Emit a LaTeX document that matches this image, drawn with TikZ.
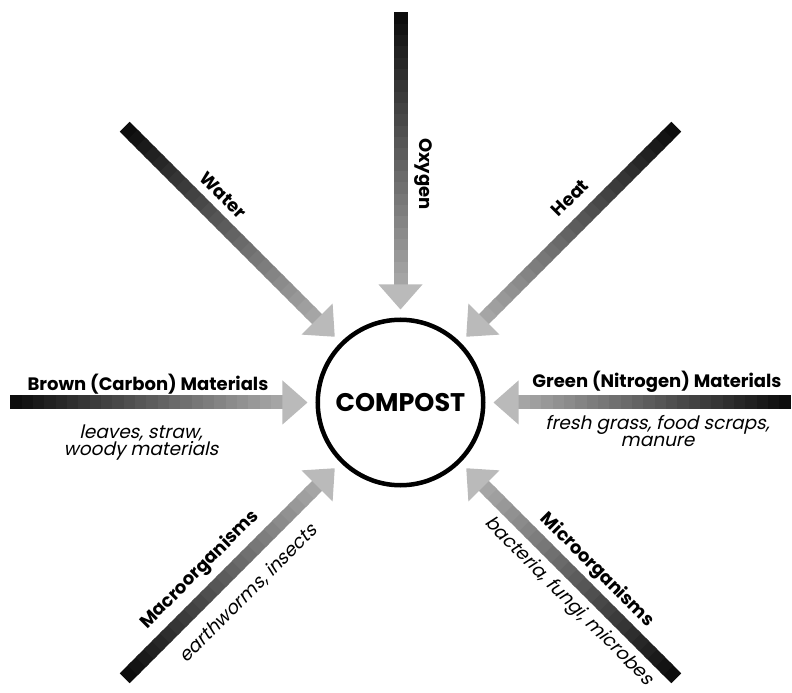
\documentclass[tikz,border=0pt]{standalone}
\usepackage{fontspec}
\setmainfont{Poppins}
\newfontfamily\notefont{Poppins}[FakeSlant=0.22]
\usetikzlibrary{calc}

\begin{document}
\begin{tikzpicture}[x=1pt,y=1pt,
    hub/.style={circle,draw=black,line width=4.5pt,minimum size=165.5pt,inner sep=0pt,
      font=\bfseries\fontsize{25.5}{30}\selectfont},
    title/.style={font=\bfseries\fontsize{18}{20}\selectfont,inner sep=0pt},
    note/.style={font=\notefont\fontsize{18.5}{17}\selectfont,align=center,inner sep=0pt},
    headfill/.style={fill=black!27}]
  \useasboundingbox (-400.5,-290.5) rectangle (391.5,402.5);

  % Centre
  \node[hub] (compost) at (0,0) {COMPOST};

  % Arrows: stepped grey shaft from the tail, light head at the circle
  \foreach \ang/\nm in {90/oxygen,135/water,45/heat,180/brown,0/green,225/macro,315/micro}{
    \coordinate (\nm-tail) at (\ang:390);
    \coordinate (\nm-base) at (\ang:118);
    \coordinate (\nm-tip)  at (\ang:93);
    \foreach \k in {0,...,23}{
      \pgfmathsetmacro{\greyval}{95-2.6*\k}
      \draw[line width=14pt,black!\greyval]
        ($(\nm-tail)!\k/24!(\nm-base)$) -- ($(\nm-tail)!{(\k+1.4)/24}!(\nm-base)$);
    }
    \fill[headfill] ($(\nm-base)!22pt!90:(\nm-tip)$) -- (\nm-tip)
      -- ($(\nm-base)!22pt!-90:(\nm-tip)$) -- cycle;
  }

  % Labels along the arrows
  \node[title,rotate=-90] (oxygen-lbl) at (22.5,228.5) {Oxygen};
  \node[title,rotate=-45] (water-lbl) at (-177.5,207.5) {Water};
  \node[title,rotate=45] (heat-lbl) at (169.5,204.5) {Heat};

  \node[title] (brown-lbl) at (-252.5,18) {Brown (Carbon) Materials};
  \node[note] (brown-note) at (-259.5,-40) {leaves, straw,\\woody materials};
  \node[title] (green-lbl) at (256.5,21) {Green (Nitrogen) Materials};
  \node[note] (green-note) at (257,-29) {fresh grass, food scraps,\\manure};

  \node[title,rotate=45] (macro-lbl) at (-200.5,-167.5) {Macroorganisms};
  \node[note,rotate=45] (macro-note) at (-152,-191) {earthworms, insects};
  \node[title,rotate=-45] (micro-lbl) at (196.5,-167.5) {Microorganisms};
  \node[note,rotate=-45] (micro-note) at (168,-199) {bacteria, fungi, microbes};
\end{tikzpicture}
\end{document}
